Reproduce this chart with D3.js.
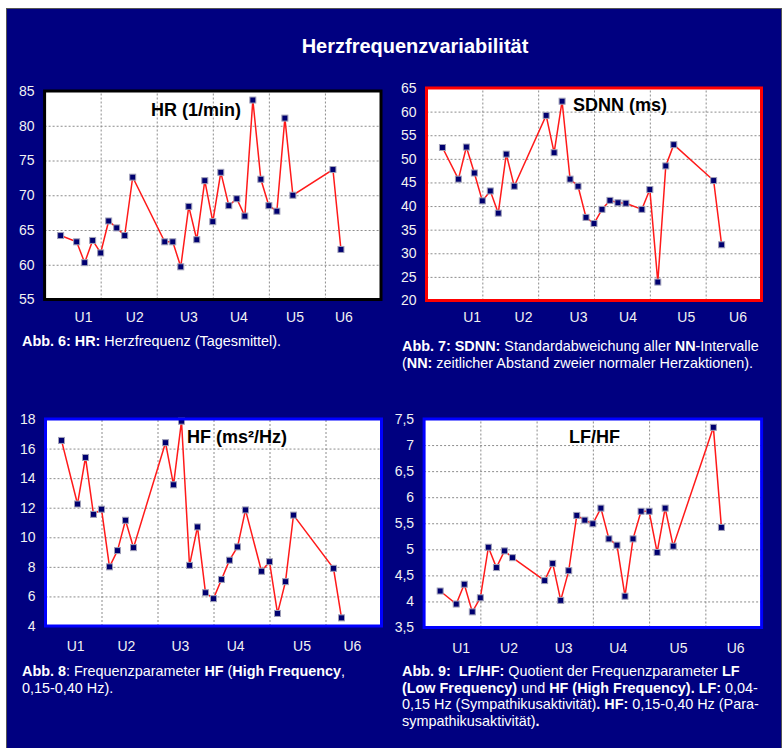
<!DOCTYPE html>
<html>
<head>
<meta charset="utf-8">
<script src="https://cdn.jsdelivr.net/npm/d3@7/dist/d3.min.js"></script>
<style>
  html, body { margin: 0; padding: 0; background: #ffffff; }
  svg { display: block; font-family: "Liberation Sans", Arial, sans-serif; }
</style>
</head>
<body>
<svg id="chart" width="783" height="748"></svg>
<script>
// Study days (x) and measured values per parameter
const hrDays = [2,4,5,6,7,8,9,10,11,15,16,17,18,19,20,21,22,23,24,25,26,27,28,29,30,31,36,37];
const hrValues = [64.2,63.3,60.3,63.5,61.7,66.3,65.3,64.2,72.6,63.3,63.3,59.7,68.4,63.6,72.1,66.2,73.3,68.5,69.5,67.0,83.7,72.3,68.5,67.7,81.1,70.0,73.7,62.2];

const sdnnDays = [2,4,5,6,7,8,9,10,11,15,16,17,18,19,20,21,22,23,24,25,27,28,29,30,31,36,37];
const sdnnValues = [52.4,45.7,52.5,47.0,41.1,43.2,38.5,51.0,44.2,59.2,51.3,62.2,45.7,44.2,37.6,36.3,39.3,41.2,40.7,40.6,39.3,43.5,23.9,48.5,53.0,45.4,31.8];

const hfDays = [2,4,5,6,7,8,9,10,11,15,16,17,18,19,20,21,22,23,24,25,27,28,29,30,31,36,37];
const hfValues = [16.55,12.25,15.4,11.55,11.9,8.0,9.1,11.15,9.3,16.4,13.55,17.85,8.1,10.7,6.25,5.85,7.15,8.45,9.35,11.85,7.7,8.35,4.85,7.0,11.5,7.9,4.55];

const lfhfDays = [2,4,5,6,7,8,9,10,11,15,16,17,18,19,20,21,22,23,24,25,26,27,28,29,30,31,36,37];
const lfhfValues = [4.2,3.95,4.33,3.8,4.07,5.04,4.65,4.97,4.84,4.4,4.73,4.02,4.59,5.65,5.56,5.49,5.79,5.2,5.08,4.1,5.2,5.73,5.73,4.94,5.79,5.06,7.34,5.42];

// Week grid and examination labels
const weekLines = [7,14,21,28,35];
const examLabels = ["U1","U2","U3","U4","U5","U6"];
const hrExamDays = [4.8,11.2,17.95,24.2,31.2,37.3];
const sdnnExamDays = [5.66,12.1,19.0,25.2,32.5,39.0];
const hfExamDays = [3.7,10.05,16.8,23.7,32.0,38.3];
const lfhfExamDays = [4.55,10.5,17.3,24.1,31.6,38.7];

// Y tick values
const hrTicks = [55,60,65,70,75,80,85];
const sdnnTicks = [20,25,30,35,40,45,50,55,60,65];
const hfTicks = [4,6,8,10,12,14,16,18];
const lfhfTicks = [3.5,4,4.5,5,5.5,6,6.5,7,7.5];

const svg = d3.select("#chart");
const navy = "#000080";

// Page panel
svg.append("rect")
  .attr("x", 6.5).attr("y", 8.5).attr("width", 775).attr("height", 745)
  .attr("fill", navy).attr("stroke", "#555").attr("stroke-width", 1);

svg.append("text")
  .attr("x", 415).attr("y", 53)
  .attr("text-anchor", "middle")
  .attr("fill", "#fff").attr("font-weight", "bold").attr("font-size", 20)
  .text("Herzfrequenzvariabilität");

const panels = [
  { title: "HR (1/min)", titleX: 151, titleY: 116, days: hrDays, values: hrValues,
    ticks: hrTicks, fmt: d => String(d), exam: hrExamDays,
    x0: 44.6, x1: 381, y0: 91, y1: 299.5, frame: "#000000", labelPad: 12.5 },
  { title: "SDNN (ms)", titleX: 573, titleY: 111, days: sdnnDays, values: sdnnValues,
    ticks: sdnnTicks, fmt: d => String(d), exam: sdnnExamDays,
    x0: 426.5, x1: 761.5, y0: 88, y1: 300.5, frame: "#ff0000", labelPad: 11.5 },
  { title: "HF (ms²/Hz)", titleX: 187, titleY: 443, days: hfDays, values: hfValues,
    ticks: hfTicks, fmt: d => String(d), exam: hfExamDays,
    x0: 45.5, x1: 381.5, y0: 419, y1: 626, frame: "#0000ff", labelPad: 15 },
  { title: "LF/HF", titleX: 569, titleY: 443, days: lfhfDays, values: lfhfValues,
    ticks: lfhfTicks, fmt: d => String(d).replace(".", ","), exam: lfhfExamDays,
    x0: 424.1, x1: 761.6, y0: 419, y1: 627.5, frame: "#0000ff", labelPad: 16 }
];

panels.forEach(p => {
  const x = d3.scaleLinear().domain([0, 42]).range([p.x0, p.x1]);
  const y = d3.scaleLinear().domain([p.ticks[0], p.ticks[p.ticks.length - 1]]).range([p.y1, p.y0]);
  const g = svg.append("g");

  // plot background
  g.append("rect")
    .attr("x", p.x0).attr("y", p.y0)
    .attr("width", p.x1 - p.x0).attr("height", p.y1 - p.y0)
    .attr("fill", "#fff");

  // horizontal grid
  g.append("g")
    .attr("transform", `translate(${p.x0},0)`)
    .call(d3.axisLeft(y).tickValues(p.ticks.slice(1, -1)).tickSize(-(p.x1 - p.x0)).tickFormat(""))
    .call(a => a.select(".domain").remove())
    .call(a => a.selectAll("line").attr("stroke", "#8c8c8c").attr("stroke-dasharray", "2,2"));

  // vertical week grid
  g.append("g")
    .attr("transform", `translate(0,${p.y1})`)
    .call(d3.axisBottom(x).tickValues(weekLines).tickSize(-(p.y1 - p.y0)).tickFormat(""))
    .call(a => a.select(".domain").remove())
    .call(a => a.selectAll("line").attr("stroke", "#8c8c8c").attr("stroke-dasharray", "2,2"));

  // y tick labels
  g.append("g")
    .attr("transform", `translate(${p.x0},0)`)
    .call(d3.axisLeft(y).tickValues(p.ticks).tickSize(0).tickPadding(10).tickFormat(p.fmt))
    .call(a => a.select(".domain").remove())
    .call(a => a.selectAll("text")
      .attr("fill", "#f2f2f2").attr("font-size", 14)
      .attr("font-family", "'Liberation Sans', Arial, sans-serif"));

  // examination labels
  g.append("g")
    .attr("transform", `translate(0,${p.y1})`)
    .call(d3.axisBottom(x).tickValues(p.exam).tickSize(0).tickPadding(p.labelPad)
      .tickFormat((d, i) => examLabels[i]))
    .call(a => a.select(".domain").remove())
    .call(a => a.selectAll("text")
      .attr("fill", "#f2f2f2").attr("font-size", 14)
      .attr("font-family", "'Liberation Sans', Arial, sans-serif"));

  // series line
  const pts = p.days.map((d, i) => [d, p.values[i]]);
  g.append("path")
    .datum(pts)
    .attr("fill", "none").attr("stroke", "#ff1a1a").attr("stroke-width", 1.5)
    .attr("d", d3.line().x(d => x(d[0])).y(d => y(d[1])));

  // markers
  g.selectAll("rect.mk").data(pts).join("rect")
    .attr("class", "mk")
    .attr("x", d => x(d[0]) - 3).attr("y", d => y(d[1]) - 3)
    .attr("width", 6).attr("height", 6)
    .attr("fill", "#000070").attr("stroke", "#a0a0b8").attr("stroke-width", 1);

  // frame
  g.append("rect")
    .attr("x", p.x0).attr("y", p.y0)
    .attr("width", p.x1 - p.x0).attr("height", p.y1 - p.y0)
    .attr("fill", "none").attr("stroke", p.frame).attr("stroke-width", 3);

  // panel title
  g.append("text")
    .attr("x", p.titleX).attr("y", p.titleY)
    .attr("font-weight", "bold").attr("font-size", 18).attr("fill", "#000")
    .text(p.title);
});

// Figure captions: each line is a list of [text, bold] runs
const captions = [
  { x: 22, y: 346, lines: [
    [["Abb. 6: HR:", true], [" Herzfrequenz (Tagesmittel).", false]]
  ]},
  { x: 402, y: 351, lines: [
    [["Abb. 7: SDNN:", true], [" Standardabweichung aller ", false], ["NN", true], ["-Intervalle", false]],
    [["(", false], ["NN:", true], [" zeitlicher Abstand zweier normaler Herzaktionen).", false]]
  ]},
  { x: 22, y: 676, lines: [
    [["Abb. 8", true], [": Frequenzparameter ", false], ["HF", true], [" (", false], ["High Frequency", true], [",", false]],
    [["0,15-0,40 Hz).", false]]
  ]},
  { x: 402, y: 676, lines: [
    [["Abb. 9:  LF/HF:", true], [" Quotient der Frequenzparameter ", false], ["LF", true]],
    [["(Low Frequency)", true], [" und ", false], ["HF (High Frequency). LF:", true], [" 0,04-", false]],
    [["0,15 Hz (Sympathikusaktivität)", false], [". HF:", true], [" 0,15-0,40 Hz (Para-", false]],
    [["sympathikusaktivität)", false], [".", true]]
  ]}
];

captions.forEach(c => {
  c.lines.forEach((line, li) => {
    const t = svg.append("text")
      .attr("x", c.x).attr("y", c.y + li * 16.5)
      .attr("fill", "#fff").attr("font-size", 14.4)
      .attr("xml:space", "preserve")
      .style("white-space", "pre");
    line.forEach(([s, b]) => {
      t.append("tspan").attr("font-weight", b ? "bold" : "normal").text(s);
    });
  });
});
</script>
</body>
</html>
